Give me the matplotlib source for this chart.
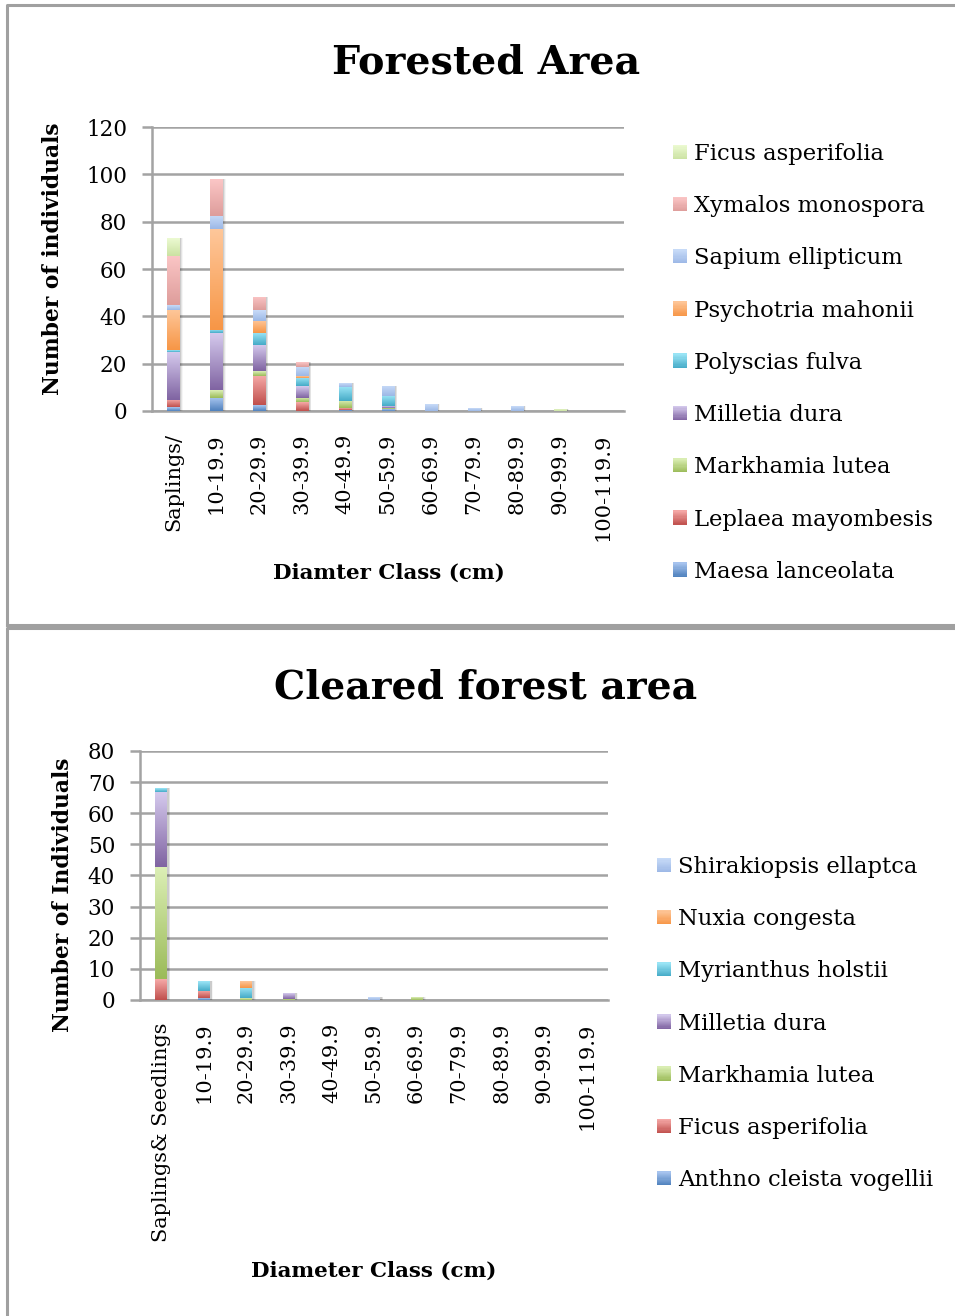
import numpy as np
import matplotlib
matplotlib.use("Agg")
import matplotlib.pyplot as plt
from matplotlib.colors import LinearSegmentedColormap, to_rgb
from matplotlib.legend_handler import HandlerBase
from matplotlib.patches import Rectangle
from matplotlib.lines import Line2D

plt.rcParams['font.family'] = ['DejaVu Serif']

# ---------------- Forested area data (stack order bottom -> top) ----------------
classes_forested = ["Saplings/", "10-19.9", "20-29.9", "30-39.9", "40-49.9",
                    "50-59.9", "60-69.9", "70-79.9", "80-89.9", "90-99.9", "100-119.9"]
maesa_lanceolata    = [1.5, 5.6, 2.4, 0.0, 0.5, 0.7, 0, 0, 0, 0, 0]
leplaea_mayombesis  = [3.0, 0.0, 12.4, 3.7, 0.6, 0.0, 0, 0, 0, 0, 0]
markhamia_lutea     = [0.0, 3.1, 2.0, 2.0, 3.0, 0.7, 0, 0, 0, 0, 0]
milletia_dura       = [20.5, 24.2, 11.0, 5.0, 0.0, 0.6, 0, 0, 0, 0, 0]
polyscias_fulva     = [0.7, 1.5, 5.1, 3.4, 6.1, 4.4, 0, 0, 0, 0, 0]
psychotria_mahonii  = [17.0, 42.3, 5.1, 0.7, 0.0, 0.0, 0, 0, 0, 0, 0]
sapium_ellipticum   = [2.0, 5.9, 4.6, 4.0, 1.6, 4.3, 2.8, 1.1, 2.0, 0, 0]
xymalos_monospora   = [21.0, 15.6, 5.5, 1.7, 0.0, 0.0, 0, 0, 0, 0, 0]
ficus_asperifolia_f = [7.6, 0.0, 0.0, 0.0, 0.0, 0.0, 0, 0, 0, 1.0, 0]

# ---------------- Cleared forest area data ----------------
classes_cleared = ["Saplings& Seedlings", "10-19.9", "20-29.9", "30-39.9", "40-49.9",
                   "50-59.9", "60-69.9", "70-79.9", "80-89.9", "90-99.9", "100-119.9"]
anthno_cleista_vogellii = [0.0, 0.5, 0.0, 0.0, 0, 0.0, 0.0, 0, 0, 0, 0]
ficus_asperifolia_c     = [6.6, 2.3, 0.0, 0.0, 0, 0.0, 0.0, 0, 0, 0, 0]
markhamia_lutea_c       = [36.0, 0.0, 0.5, 0.4, 0, 0.0, 0.9, 0, 0, 0, 0]
milletia_dura_c         = [24.2, 0.0, 0.0, 1.7, 0, 0.0, 0.0, 0, 0, 0, 0]
myrianthus_holstii      = [1.2, 3.2, 3.4, 0.0, 0, 0.0, 0.0, 0, 0, 0, 0]
nuxia_congesta          = [0.0, 0.0, 2.1, 0.0, 0, 0.0, 0.0, 0, 0, 0, 0]
shirakiopsis_ellaptca   = [0.0, 0.0, 0.0, 0.0, 0, 0.9, 0.0, 0, 0, 0, 0]

# gradient palettes (top colour, bottom colour)
BLUE   = ("#aac6f0", "#4f81bd")
RED    = ("#f6aaa8", "#c0504d")
GREEN  = ("#dcefb6", "#9bbb59")
PURPLE = ("#d6cbee", "#8064a2")
CYAN   = ("#9de6f7", "#45abc7")
ORANGE = ("#fec79a", "#f79646")
LTBLUE = ("#c8dbf8", "#9cb8e6")
PINK   = ("#fbc6c6", "#de9d9b")
LTGRN  = ("#ecfad2", "#cbe2a2")

forested_series = [
    ("Maesa lanceolata", maesa_lanceolata, BLUE),
    ("Leplaea mayombesis", leplaea_mayombesis, RED),
    ("Markhamia lutea", markhamia_lutea, GREEN),
    ("Milletia dura", milletia_dura, PURPLE),
    ("Polyscias fulva", polyscias_fulva, CYAN),
    ("Psychotria mahonii", psychotria_mahonii, ORANGE),
    ("Sapium ellipticum", sapium_ellipticum, LTBLUE),
    ("Xymalos monospora", xymalos_monospora, PINK),
    ("Ficus asperifolia", ficus_asperifolia_f, LTGRN),
]
cleared_series = [
    ("Anthno cleista vogellii", anthno_cleista_vogellii, BLUE),
    ("Ficus asperifolia", ficus_asperifolia_c, RED),
    ("Markhamia lutea", markhamia_lutea_c, GREEN),
    ("Milletia dura", milletia_dura_c, PURPLE),
    ("Myrianthus holstii", myrianthus_holstii, CYAN),
    ("Nuxia congesta", nuxia_congesta, ORANGE),
    ("Shirakiopsis ellaptca", shirakiopsis_ellaptca, LTBLUE),
]


class GradientSquare:
    def __init__(self, top, bottom):
        self.top, self.bottom = top, bottom


class HandlerGradient(HandlerBase):
    def create_artists(self, legend, orig_handle, xdescent, ydescent,
                       width, height, fontsize, trans):
        n = 12
        side = min(width, height)
        x0 = -xdescent
        y0 = -ydescent + (height - side) / 2
        t = np.array(to_rgb(orig_handle.top))
        b = np.array(to_rgb(orig_handle.bottom))
        arts = []
        for i in range(n):
            f = (i + 0.5) / n
            c = b * (1 - f) + t * f
            arts.append(Rectangle((x0, y0 + side * i / n), side, side / n + 0.3,
                                  facecolor=c, edgecolor='none', transform=trans))
        return arts


GRID = "#a3a3a3"


def draw_chart(ax, cats, series, ymax, ystep, width=0.28):
    x = np.arange(len(cats))
    totals = np.sum([s[1] for s in series], axis=0)
    # soft drop shadow behind each stack
    for k, a in enumerate([0.10, 0.07, 0.04]):
        ax.bar(x + 0.045, totals, width + 0.03 * k, color="#000000", alpha=a,
               linewidth=0, zorder=2)
    bottom = np.zeros(len(cats))
    grad = np.linspace(0, 1, 64)[:, None]
    for name, vals, (ctop, cbot) in series:
        vals = np.asarray(vals, dtype=float)
        cmap = LinearSegmentedColormap.from_list(name, [ctop, cbot])
        bars = ax.bar(x, vals, width, bottom=bottom, color=cbot, linewidth=0, zorder=3)
        for xi, b0, h, rect in zip(x, bottom, vals, bars):
            if h <= 0:
                continue
            im = ax.imshow(grad, cmap=cmap, aspect='auto', origin='upper',
                           extent=(xi - width / 2, xi + width / 2, b0, b0 + h),
                           interpolation='bilinear', zorder=3.1)
            im.set_clip_path(rect)
        bottom += vals
    ax.set_xlim(-0.5, len(cats) - 0.5)
    ax.set_ylim(0, ymax)
    ax.set_yticks(np.arange(0, ymax + 1, ystep))
    ax.set_xticks(x)
    ax.set_xticklabels(cats, rotation=90, fontsize=15)
    ax.tick_params(axis='y', labelsize=15.5, length=7, width=1.8, color=GRID, pad=11)
    ax.tick_params(axis='x', length=0, pad=16)
    ax.grid(axis='y', color=GRID, linewidth=1.8, zorder=1)
    ax.set_axisbelow(True)
    for s in ['top', 'right']:
        ax.spines[s].set_visible(False)
    for s in ['left', 'bottom']:
        ax.spines[s].set_color(GRID)
        ax.spines[s].set_linewidth(1.8)
        ax.spines[s].set_zorder(1.5)


fig = plt.figure(figsize=(9.55, 13.16), dpi=100)
W, H = 955.0, 1316.0


def fx(px):
    return px / W


def fy(py):
    return 1 - py / H


# panel frames
frame_kw = dict(color="#a0a0a0", linewidth=2.2, transform=fig.transFigure)
fig.add_artist(Line2D([fx(6.5), fx(6.5), 1.01], [fy(625), fy(4.5), fy(4.5)], **frame_kw))
fig.add_artist(Line2D([fx(6.5), 1.01], [fy(625), fy(625)], **frame_kw))
fig.add_artist(Line2D([fx(6.5), fx(6.5), 1.01], [-0.01, fy(628.5), fy(628.5)], **frame_kw))

LEG_KW = dict(frameon=False, fontsize=16.3, handlelength=0.62, handleheight=0.62,
              handletextpad=0.3, labelspacing=1.335, borderpad=0, borderaxespad=0,
              loc='upper left', handler_map={GradientSquare: HandlerGradient()})

# ---- Forested area ----
ax1 = fig.add_axes([fx(152), fy(411), fx(624) - fx(152), fy(127) - fy(411)])
draw_chart(ax1, classes_forested, forested_series, 120, 20)
fig.text(fx(486), fy(63), "Forested Area", ha='center', va='center',
         fontsize=28.5, fontweight='bold')
fig.text(fx(53), fy(259), "Number of individuals", ha='center', va='center',
         rotation=90, fontsize=15.7, fontweight='bold')
fig.text(fx(389), fy(573), "Diamter Class (cm)", ha='center', va='center',
         fontsize=15.4, fontweight='bold')
h1 = [GradientSquare(*c) for _, _, c in forested_series][::-1]
l1 = [n for n, _, _ in forested_series][::-1]
ax1.legend(h1, l1, bbox_to_anchor=(fx(673), fy(143)),
           bbox_transform=fig.transFigure, **LEG_KW)

# ---- Cleared forest area ----
ax2 = fig.add_axes([fx(140), fy(1000), fx(608) - fx(140), fy(751) - fy(1000)])
draw_chart(ax2, classes_cleared, cleared_series, 80, 10)
fig.text(fx(486), fy(687), "Cleared forest area", ha='center', va='center',
         fontsize=28.3, fontweight='bold')
fig.text(fx(63), fy(895), "Number of Individuals", ha='center', va='center',
         rotation=90, fontsize=15.7, fontweight='bold')
fig.text(fx(374), fy(1271), "Diameter Class (cm)", ha='center', va='center',
         fontsize=15.4, fontweight='bold')
h2 = [GradientSquare(*c) for _, _, c in cleared_series][::-1]
l2 = [n for n, _, _ in cleared_series][::-1]
ax2.legend(h2, l2, bbox_to_anchor=(fx(657), fy(856)),
           bbox_transform=fig.transFigure, **LEG_KW)

fig.savefig("out.png", dpi=100, facecolor="white")
